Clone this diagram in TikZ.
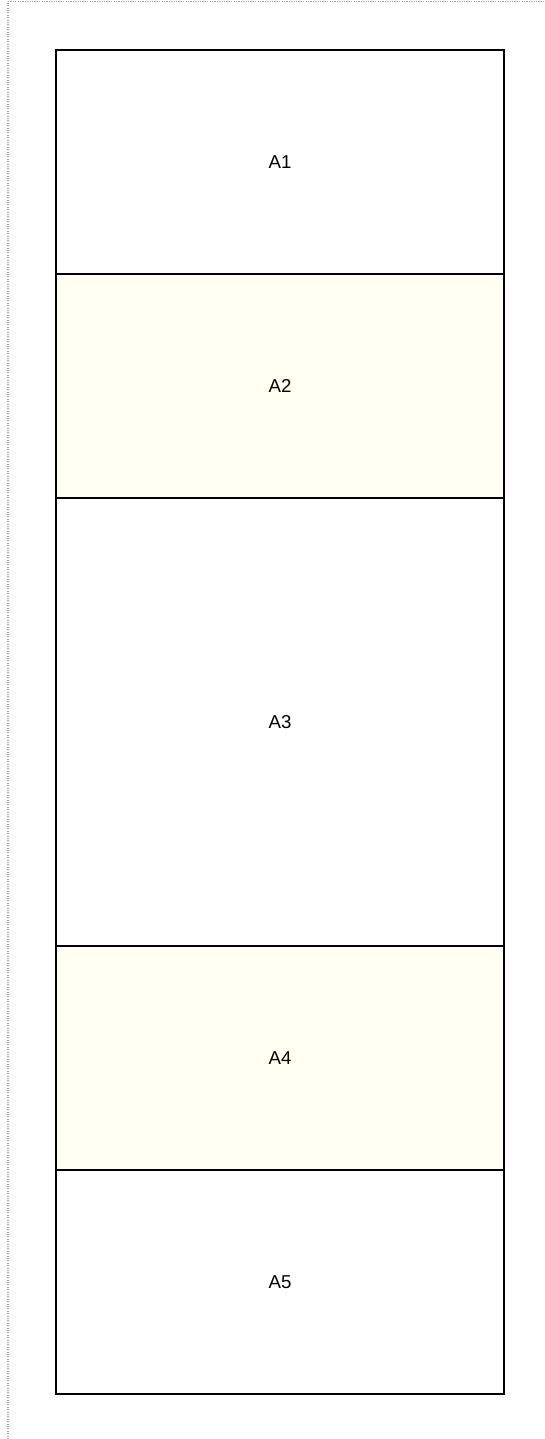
\documentclass[tikz,border=0pt]{standalone}
\usepackage{fontspec}
\setmainfont{Liberation Sans}
\usetikzlibrary{positioning}
\definecolor{bandivory}{HTML}{FFFFF2}
\definecolor{framegray}{HTML}{A8A8A8}

\begin{document}
\begin{tikzpicture}[x=0.75pt,y=-0.75pt,font=\fontsize{14}{16}\selectfont,
  band/.style={draw,line width=1.5pt,minimum width=336pt,inner sep=0pt,outer sep=0pt},
  single/.style={band,minimum height=168pt},
  double/.style={band,minimum height=336pt}]
  \useasboundingbox (0,0) rectangle (544,1439);
  \draw[framegray,densely dotted,line width=0.8pt] (8,1439) -- (8,1.5) -- (544,1.5);

  \node[single,anchor=north west] (a1) at (56,50) {A1};
  \node[single,fill=bandivory,below=0pt of a1] (a2) {A2};
  \node[double,below=0pt of a2] (a3) {A3};
  \node[single,fill=bandivory,below=0pt of a3] (a4) {A4};
  \node[single,below=0pt of a4] (a5) {A5};
\end{tikzpicture}
\end{document}
